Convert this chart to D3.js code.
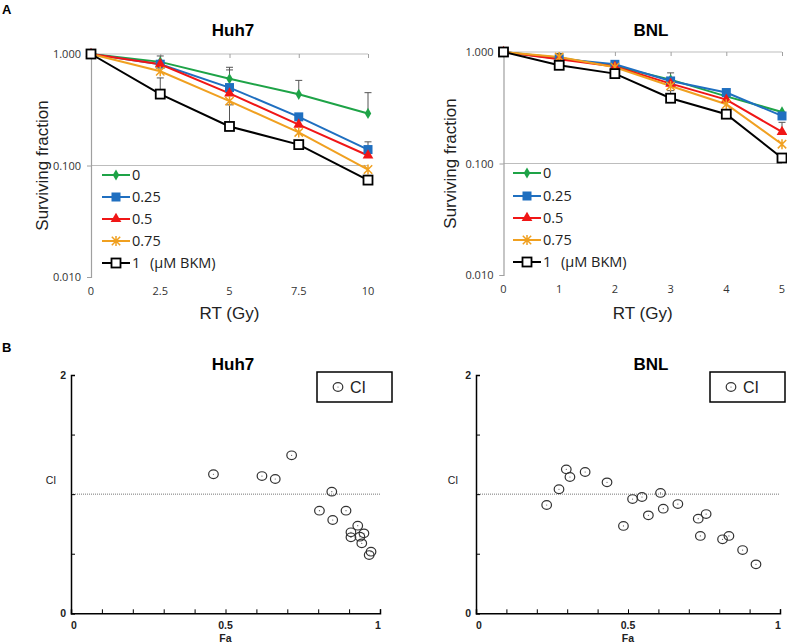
<!DOCTYPE html>
<html><head><meta charset="utf-8">
<script src="https://cdn.jsdelivr.net/npm/d3@7"></script>
<style>body{margin:0;background:#fff}svg{display:block}</style>
</head><body>
<svg id="c" width="787" height="644"></svg>
<script>
// ---------- DATA ----------
const legendLabels = ["0","0.25","0.5","0.75","1"];
const huhDose = [0, 2.5, 5, 7.5, 10];
const huh0    = [1.0, 0.85, 0.60, 0.435, 0.293];
const huh025  = [1.0, 0.81, 0.50, 0.273, 0.139];
const huh05   = [1.0, 0.81, 0.443, 0.233, 0.123];
const huh075  = [1.0, 0.70, 0.378, 0.198, 0.092];
const huh1    = [1.0, 0.437, 0.224, 0.154, 0.074];
const huhErrUp0   = [null, 0.96, 0.76, 0.58, 0.45];
const huhErrUp025 = [null, null, 0.72, null, 0.163];
const huhErrUp1   = [null, 0.61, 0.35, null, null];
const bnlDose = [0, 1, 2, 3, 4, 5];
const bnl0    = [1.0, 0.89, 0.745, 0.565, 0.40, 0.29];
const bnl025  = [1.0, 0.87, 0.775, 0.55, 0.433, 0.267];
const bnl05   = [1.0, 0.86, 0.74, 0.52, 0.374, 0.192];
const bnl075  = [1.0, 0.90, 0.73, 0.496, 0.34, 0.149];
const bnl1    = [1.0, 0.76, 0.64, 0.385, 0.277, 0.112];
const bnlErrUp0  = [null, 0.97, null, 0.65, null, null];
const bnlErrUp05 = [null, null, null, null, null, 0.234];
const bnlErrUp1  = [null, null, null, 0.45, null, null];
const logTicks = [1, 0.1, 0.01];
const huhXTicks = [0, 2.5, 5, 7.5, 10];
const bnlXTicks = [0, 1, 2, 3, 4, 5];
// CI vs Fa
const huhFa = [0.461,0.618,0.661,0.714,0.844,0.804,0.890,0.847,0.928,0.906,0.906,0.948,0.935,0.941,0.971,0.965];
const huhCI = [1.167,1.152,1.127,1.326,1.021,0.861,0.861,0.783,0.735,0.680,0.638,0.671,0.643,0.587,0.517,0.489];
const bnlFa = [0.2325,0.273,0.297,0.309,0.359,0.431,0.485,0.515,0.546,0.567,0.607,0.616,0.664,0.731,0.757,0.738,0.811,0.832,0.877,0.921];
const bnlCI = [0.909,1.041,1.208,1.144,1.186,1.099,0.733,0.959,0.976,0.822,1.010,0.878,0.917,0.794,0.833,0.649,0.621,0.649,0.531,0.411];

const colors = ["#1ea347","#1f6fc0","#f01616","#f0a020","#000000"];
const shapes = ["diamond","square","triangle","star","open"];

const svg = d3.select("#c");
const FONT = "'Liberation Sans', Arial, sans-serif";
const TFONT = "'Open Sans', 'Liberation Sans', sans-serif";

function marker(g, shape, color, x, y) {
  if (shape === "diamond") {
    g.append("path").attr("d", d3.symbol(d3.symbolDiamond, 36)()).attr("transform",`translate(${x},${y})`).attr("fill",color);
  } else if (shape === "square") {
    g.append("rect").attr("x",x-4.5).attr("y",y-4.5).attr("width",9).attr("height",9).attr("fill",color);
  } else if (shape === "triangle") {
    g.append("path").attr("d", d3.symbol(d3.symbolTriangle, 50)()).attr("transform",`translate(${x},${y})`).attr("fill",color);
  } else if (shape === "star") {
    const r = 4.2;
    const p = `M${x-r},${y-r}L${x+r},${y+r}M${x-r},${y+r}L${x+r},${y-r}M${x},${y-r-0.8}L${x},${y+r+0.8}`;
    g.append("path").attr("d", p).attr("stroke",color).attr("stroke-width",1.5).attr("fill","none");
  } else {
    g.append("rect").attr("x",x-4.5).attr("y",y-4.5).attr("width",9).attr("height",9).attr("fill","#fff").attr("stroke",color).attr("stroke-width",1.8);
  }
}

function survPanel(opt) {
  const g = svg.append("g");
  const x = d3.scaleLinear().domain(opt.xDomain).range([opt.x0, opt.x1]);
  const y = d3.scaleLog().domain([0.01, 1]).range([opt.yBot, opt.yTop]);
  g.selectAll(".grid").data([1, 0.1]).join("line")
    .attr("x1", opt.x0).attr("x2", opt.x1).attr("y1", d=>y(d)).attr("y2", d=>y(d))
    .attr("stroke", "#bdbdbd").attr("stroke-width", 1.2);
  const ya = g.append("g").attr("transform",`translate(${opt.x0},0)`)
    .call(d3.axisLeft(y).tickValues(logTicks).tickFormat(d3.format(".3f")).tickSize(4).tickPadding(6));
  ya.select(".domain").attr("stroke","#a0a0a0").attr("stroke-width",1.2);
  ya.selectAll(".tick line").attr("stroke","#a0a0a0");
  ya.selectAll("text").attr("font-family",TFONT).attr("font-size",11).attr("fill","#333");
  const xa = g.append("g").attr("transform",`translate(0,${y(1)})`)
    .call(d3.axisBottom(x).tickValues(opt.xTicks).tickSize(4).tickFormat(""));
  xa.select(".domain").remove();
  xa.selectAll(".tick line").attr("stroke","#a0a0a0");
  g.selectAll(".xl").data(opt.xTicks).join("text")
    .attr("x", d=>x(d)).attr("y", opt.yBot+18).attr("text-anchor","middle")
    .attr("font-family",TFONT).attr("font-size",11).attr("fill","#333").text(d=>d);
  opt.errs.forEach(e => {
    e.up.forEach((u,i) => {
      if (u == null) return;
      const xx = x(opt.xs[i]);
      g.append("line").attr("x1",xx).attr("x2",xx).attr("y1",y(e.base[i])).attr("y2",y(u)).attr("stroke","#555").attr("stroke-width",1);
      g.append("line").attr("x1",xx-3.5).attr("x2",xx+3.5).attr("y1",y(u)).attr("y2",y(u)).attr("stroke","#555").attr("stroke-width",1);
    });
  });
  const line = d3.line().x((d,i)=>x(opt.xs[i])).y(d=>y(d));
  opt.series.forEach((s, k) => {
    g.append("path").datum(s).attr("d", line).attr("fill","none").attr("stroke",colors[k]).attr("stroke-width",2);
  });
  opt.series.forEach((s, k) => {
    s.forEach((v,i) => marker(g, shapes[k], colors[k], x(opt.xs[i]), y(v)));
  });
  legendLabels.forEach((lab, k) => {
    const ly = opt.legY[k];
    g.append("line").attr("x1",opt.legX).attr("x2",opt.legX+28).attr("y1",ly).attr("y2",ly).attr("stroke",colors[k]).attr("stroke-width",2);
    marker(g, shapes[k], colors[k], opt.legX+14, ly);
    g.append("text").attr("x",opt.legX+30).attr("y",ly+5).attr("font-family",TFONT).attr("font-size",14.5).attr("fill","#222").text(lab);
  });
  g.append("text").attr("x",opt.legX+48).attr("y",opt.legY[4]+5).attr("font-family",TFONT).attr("font-size",14.5).attr("fill","#222").text("(µM BKM)");
  g.append("text").attr("x",opt.titleX).attr("y",36).attr("text-anchor","middle").attr("font-family",FONT).attr("font-weight","bold").attr("font-size",17).text(opt.title);
  g.append("text").attr("transform",`translate(${opt.yLabX},${(opt.yTop+opt.yBot)/2}) rotate(-90)`).attr("text-anchor","middle")
    .attr("font-family",FONT).attr("font-size",17).attr("fill","#222").text("Surviving fraction");
  g.append("text").attr("x",(opt.x0+opt.x1)/2).attr("y",319).attr("text-anchor","middle")
    .attr("font-family",FONT).attr("font-size",17).attr("fill","#222").text("RT (Gy)");
}

survPanel({x0:91, x1:368, yTop:54, yBot:277, xDomain:[0,10], xs:huhDose, xTicks:huhXTicks,
  series:[huh0,huh025,huh05,huh075,huh1],
  errs:[{up:huhErrUp0,base:huh0},{up:huhErrUp025,base:huh025},{up:huhErrUp1,base:huh1}],
  legX:102, legY:[175,197,219,241,263], title:"Huh7", titleX:233, yLabX:48});
survPanel({x0:503.5, x1:782, yTop:52, yBot:275, xDomain:[0,5], xs:bnlDose, xTicks:bnlXTicks,
  series:[bnl0,bnl025,bnl05,bnl075,bnl1],
  errs:[{up:bnlErrUp0,base:bnl0},{up:bnlErrUp05,base:bnl05},{up:bnlErrUp1,base:bnl1}],
  legX:513, legY:[173,196,218,240,262], title:"BNL", titleX:651, yLabX:456});

function ciPanel(opt) {
  const g = svg.append("g");
  const x = d3.scaleLinear().domain([0,1]).range([opt.x0, opt.x1]);
  const y = d3.scaleLinear().domain([0,2]).range([613.3, 375]);
  g.append("line").attr("x1",opt.x0).attr("x2",opt.x1).attr("y1",y(1)).attr("y2",y(1))
    .attr("stroke","#777").attr("stroke-width",1).attr("stroke-dasharray","1,1");
  const xa = g.append("g").attr("transform",`translate(0,${y(0)})`)
    .call(d3.axisBottom(x).tickValues(d3.range(0,1.0001,0.1)).tickSize(-4).tickFormat(""));
  xa.select(".domain").attr("stroke","#000").attr("stroke-width",1.5);
  xa.selectAll(".tick line").attr("stroke","#000");
  const ya = g.append("g").attr("transform",`translate(${opt.x0},0)`)
    .call(d3.axisLeft(y).tickValues([0,0.5,1,1.5,2]).tickSize(-4).tickFormat(""));
  ya.select(".domain").attr("stroke","#000").attr("stroke-width",1.5);
  ya.selectAll(".tick line").attr("stroke","#000");
  [[0,"0"],[0.5,"0.5"],[1,"1"]].forEach(([v,t]) => {
    g.append("text").attr("x",x(v)+(v===0?3:(v===1?-2:0))).attr("y",629).attr("text-anchor","middle")
      .attr("font-family",FONT).attr("font-weight","bold").attr("font-size",10.5).attr("fill","#222").text(t);
  });
  [[0,"0"],[2,"2"]].forEach(([v,t]) => {
    g.append("text").attr("x",opt.x0-5).attr("y",y(v)+4).attr("text-anchor","end")
      .attr("font-family",FONT).attr("font-weight","bold").attr("font-size",10.5).attr("fill","#222").text(t);
  });
  g.append("text").attr("x",x(0.5)).attr("y",642).attr("text-anchor","middle").attr("font-family",FONT).attr("font-weight","bold").attr("font-size",10.5).attr("fill","#222").text("Fa");
  g.append("text").attr("x",opt.ciLabX).attr("y",484).attr("text-anchor","middle").attr("font-family",FONT).attr("font-size",10.5).attr("fill","#222").text("CI");
  g.append("text").attr("x",opt.titleX).attr("y",370).attr("text-anchor","middle").attr("font-family",FONT).attr("font-weight","bold").attr("font-size",17).text(opt.title);
  opt.fa.forEach((f,i) => {
    const px = x(f), py = y(opt.ci[i]);
    g.append("ellipse").attr("cx",px).attr("cy",py).attr("rx",4.8).attr("ry",4.3).attr("fill","none").attr("stroke","#333").attr("stroke-width",1.2);
    g.append("circle").attr("cx",px).attr("cy",py).attr("r",0.6).attr("fill","#555");
  });
  g.append("rect").attr("x",opt.legX).attr("y",372).attr("width",75).attr("height",30).attr("fill","#fff").attr("stroke","#000").attr("stroke-width",1.5);
  g.append("ellipse").attr("cx",opt.legX+21).attr("cy",387).attr("rx",4.8).attr("ry",4.3).attr("fill","none").attr("stroke","#333").attr("stroke-width",1.2);
  g.append("circle").attr("cx",opt.legX+21).attr("cy",387).attr("r",0.6).attr("fill","#555");
  g.append("text").attr("x",opt.legX+33).attr("y",393).attr("font-family",FONT).attr("font-size",16).attr("fill","#222").text("CI");
}
ciPanel({x0:71, x1:380, fa:huhFa, ci:huhCI, title:"Huh7", titleX:233, legX:317, ciLabX:51});
ciPanel({x0:476, x1:780, fa:bnlFa, ci:bnlCI, title:"BNL", titleX:651, legX:710, ciLabX:453});

svg.append("text").attr("x",2).attr("y",14).attr("font-family",FONT).attr("font-weight","bold").attr("font-size",13).text("A");
svg.append("text").attr("x",2).attr("y",352).attr("font-family",FONT).attr("font-weight","bold").attr("font-size",13).text("B");
</script>
</body></html>
